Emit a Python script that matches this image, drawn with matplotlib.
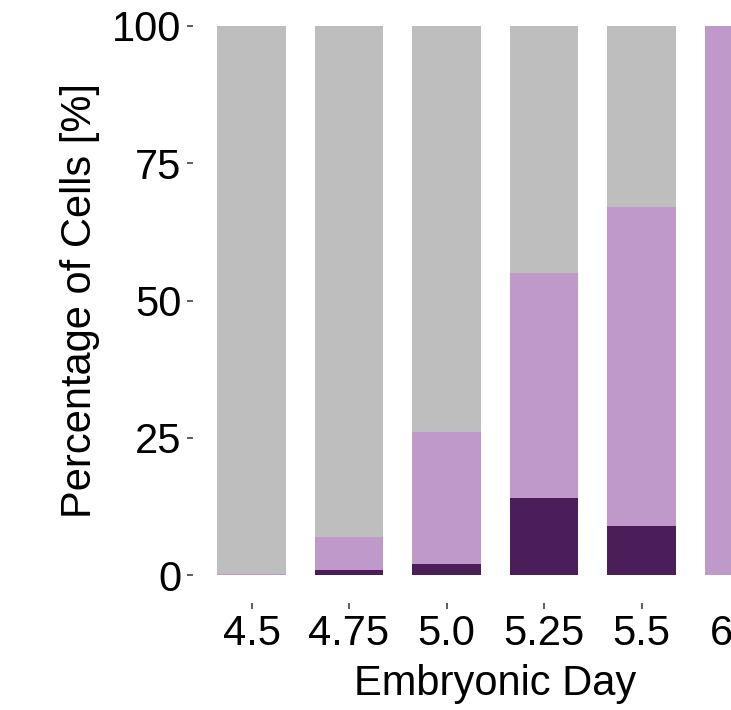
import matplotlib
matplotlib.use("Agg")
import matplotlib.pyplot as plt
import numpy as np

days = ["4.5", "4.75", "5.0", "5.25", "5.5", "6.5"]
dark = [0, 1, 2, 14, 9, 0]
light = [0.2, 6, 24, 41, 58, 100]
grey = [100 - d - l for d, l in zip(dark, light)]

plt.rcParams["font.family"] = ["Liberation Sans", "DejaVu Sans"]

fig = plt.figure(figsize=(7.31, 7.10), dpi=100)
ax = fig.add_axes([193 / 731, 107.5 / 710, 604.5 / 731, 604 / 710])

x = np.arange(len(days))
ax.bar(x, dark, width=0.7, color="#4B1E5A")
ax.bar(x, light, width=0.7, bottom=dark, color="#C099CB")
ax.bar(x, grey, width=0.7, bottom=np.array(dark) + np.array(light), color="#BEBEBE")

ax.set_xlim(-0.6, 5.6)
ax.set_ylim(-5, 105)
ax.set_xticks(x)
ax.set_xticklabels(days)
ax.set_yticks([0, 25, 50, 75, 100])
ax.set_yticklabels(["0", "25", "50", "75", "100"])

for s in ax.spines.values():
    s.set_visible(False)
ax.tick_params(axis="both", length=4.3, width=1.1, color="#333333",
               labelsize=30, labelcolor="black", pad=4)

ax.set_xlabel("Embryonic Day", fontsize=30)
ax.set_ylabel("Percentage of Cells [%]", fontsize=30)
ax.yaxis.set_label_coords(-0.154, 0.5)
ax.xaxis.labelpad = 7

fig.savefig("out.png", dpi=100)
